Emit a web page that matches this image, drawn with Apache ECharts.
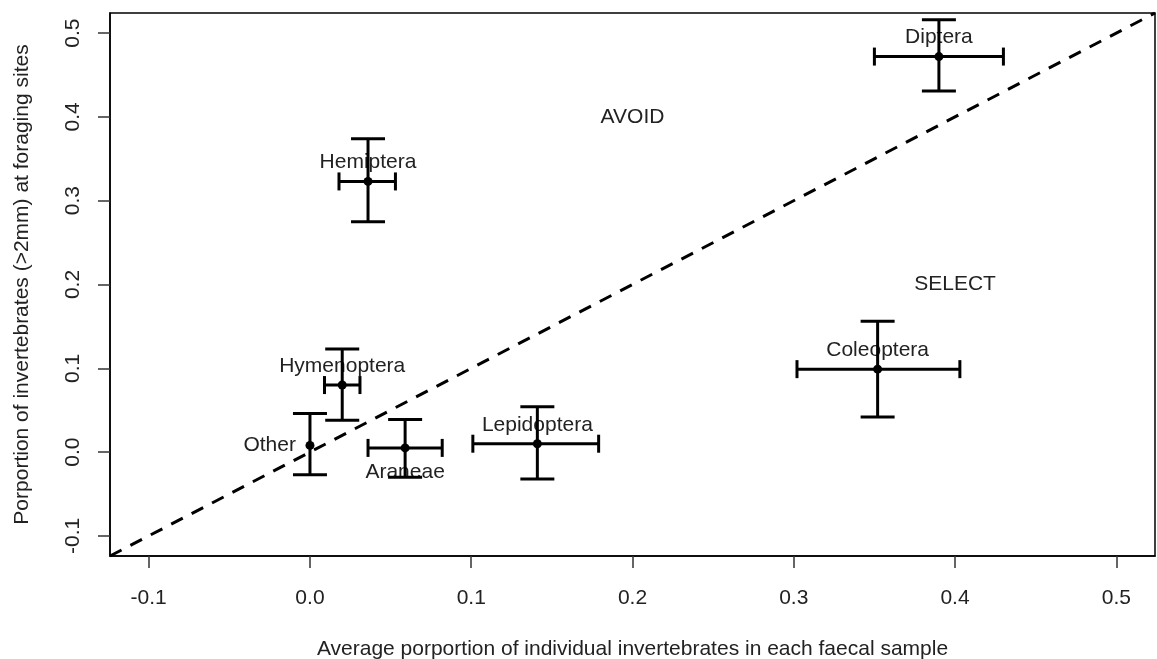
<!DOCTYPE html>
<html><head><meta charset="utf-8">
<script src="https://cdn.jsdelivr.net/npm/echarts@6/dist/echarts.min.js"></script>
<style>html,body{margin:0;padding:0;background:#fff}#c{width:1157px;height:659px}</style>
</head><body><div id="c"></div>
<script>
const taxa   = ['Diptera','Hemiptera','Hymenoptera','Other','Araneae','Lepidoptera','Coleoptera'];
const xMean  = [0.390, 0.036, 0.020, 0.000, 0.059, 0.141, 0.352];
const yMean  = [0.472, 0.323, 0.080, 0.008, 0.005, 0.010, 0.099];
const xLow   = [0.350, 0.018, 0.009, null,  0.036, 0.101, 0.302];
const xHigh  = [0.430, 0.053, 0.031, null,  0.082, 0.179, 0.403];
const yLow   = [0.431, 0.275, 0.038, -0.027, -0.030, -0.032, 0.042];
const yHigh  = [0.516, 0.374, 0.123, 0.046, 0.039, 0.054, 0.156];
const regionText = ['AVOID','SELECT'];
const regionX = [0.2, 0.4];
const regionY = [0.4, 0.2];
const tickVals = [-0.1, 0.0, 0.1, 0.2, 0.3, 0.4, 0.5];
const axMin = -0.124, axMax = 0.524;

const labelSide = {Other:'left', Araneae:'bottom'};
const FONT = '"Liberation Sans", Arial, sans-serif';
const FS = 21;

const data = taxa.map((n,i)=>[xMean[i], yMean[i], xLow[i], xHigh[i], yLow[i], yHigh[i], i]);

function renderItem(params, api){
  const i = api.value(6);
  const p = api.coord([api.value(0), api.value(1)]);
  const ch = [];
  const ls = {stroke:'#000', lineWidth:3};
  const xl = xLow[i], xh = xHigh[i];
  if (xl != null) {
    const a = api.coord([xl, api.value(1)]), b = api.coord([xh, api.value(1)]);
    ch.push({type:'line', shape:{x1:a[0],y1:a[1],x2:b[0],y2:b[1]}, style:ls});
    ch.push({type:'line', shape:{x1:a[0],y1:a[1]-9,x2:a[0],y2:a[1]+9}, style:ls});
    ch.push({type:'line', shape:{x1:b[0],y1:b[1]-9,x2:b[0],y2:b[1]+9}, style:ls});
  }
  const c = api.coord([api.value(0), api.value(4)]), d = api.coord([api.value(0), api.value(5)]);
  ch.push({type:'line', shape:{x1:c[0],y1:c[1],x2:d[0],y2:d[1]}, style:ls});
  ch.push({type:'line', shape:{x1:c[0]-17,y1:c[1],x2:c[0]+17,y2:c[1]}, style:ls});
  ch.push({type:'line', shape:{x1:d[0]-17,y1:d[1],x2:d[0]+17,y2:d[1]}, style:ls});
  ch.push({type:'circle', shape:{cx:p[0], cy:p[1], r:4.5}, style:{fill:'#000'}});
  const name = taxa[i];
  const side = labelSide[name] || 'top';
  let tx = p[0], ty = p[1], align='center';
  if (side==='top') ty = p[1]-19;
  else if (side==='bottom') ty = p[1]+24;
  else if (side==='left') { tx = p[0]-14; align='right'; }
  ch.unshift({type:'text', x:tx, y:ty, style:{text:name, fill:'#222', font:FS+'px '+FONT, align:align, verticalAlign:'middle'}});
  return {type:'group', children:ch};
}

function renderRegion(params, api){
  const p = api.coord([api.value(0), api.value(1)]);
  return {type:'text', x:p[0], y:p[1], style:{text:regionText[api.value(2)], fill:'#222', font:FS+'px '+FONT, align:'center', verticalAlign:'middle'}};
}

const chart = echarts.init(document.getElementById('c'), null, {renderer:'canvas'});
const axisCommon = {
  type:'value', min:axMin, max:axMax,
  splitLine:{show:false},
  axisLine:{show:true, onZero:false, lineStyle:{color:'#000', width:1.5}},
  axisTick:{show:true, length:12, customValues:tickVals, lineStyle:{color:'#333', width:1.5}},
  axisLabel:{customValues:tickVals, formatter:v=>(+v).toFixed(1), color:'#222', fontSize:FS, fontFamily:FONT},
  nameLocation:'middle',
  nameTextStyle:{color:'#222', fontSize:FS, fontFamily:FONT}
};
chart.setOption({
  animation:false,
  grid:{left:110, right:2, top:13, bottom:103, containLabel:false, outerBoundsMode:'none',
        show:true, borderColor:'#000', borderWidth:1.5, backgroundColor:'transparent'},
  xAxis:Object.assign({}, axisCommon, {
    name:'Average porportion of individual invertebrates in each faecal sample', nameGap:83,
    axisLabel:Object.assign({}, axisCommon.axisLabel, {margin:32})
  }),
  yAxis:Object.assign({}, axisCommon, {
    name:'Porportion of invertebrates (>2mm) at foraging sites', nameGap:77,
    axisLabel:Object.assign({}, axisCommon.axisLabel, {rotate:90, margin:26})
  }),
  series:[
    {type:'line', data:[[axMin,axMin],[axMax,axMax]], symbol:'none', silent:true,
     lineStyle:{color:'#000', width:3, type:[13,10]}},
    {type:'custom', renderItem:renderItem, data:data, clip:false, encode:{x:0, y:1}},
    {type:'custom', renderItem:renderRegion, data:regionText.map((t,i)=>[regionX[i], regionY[i], i]), encode:{x:0, y:1}}
  ]
});
</script>
</body></html>
